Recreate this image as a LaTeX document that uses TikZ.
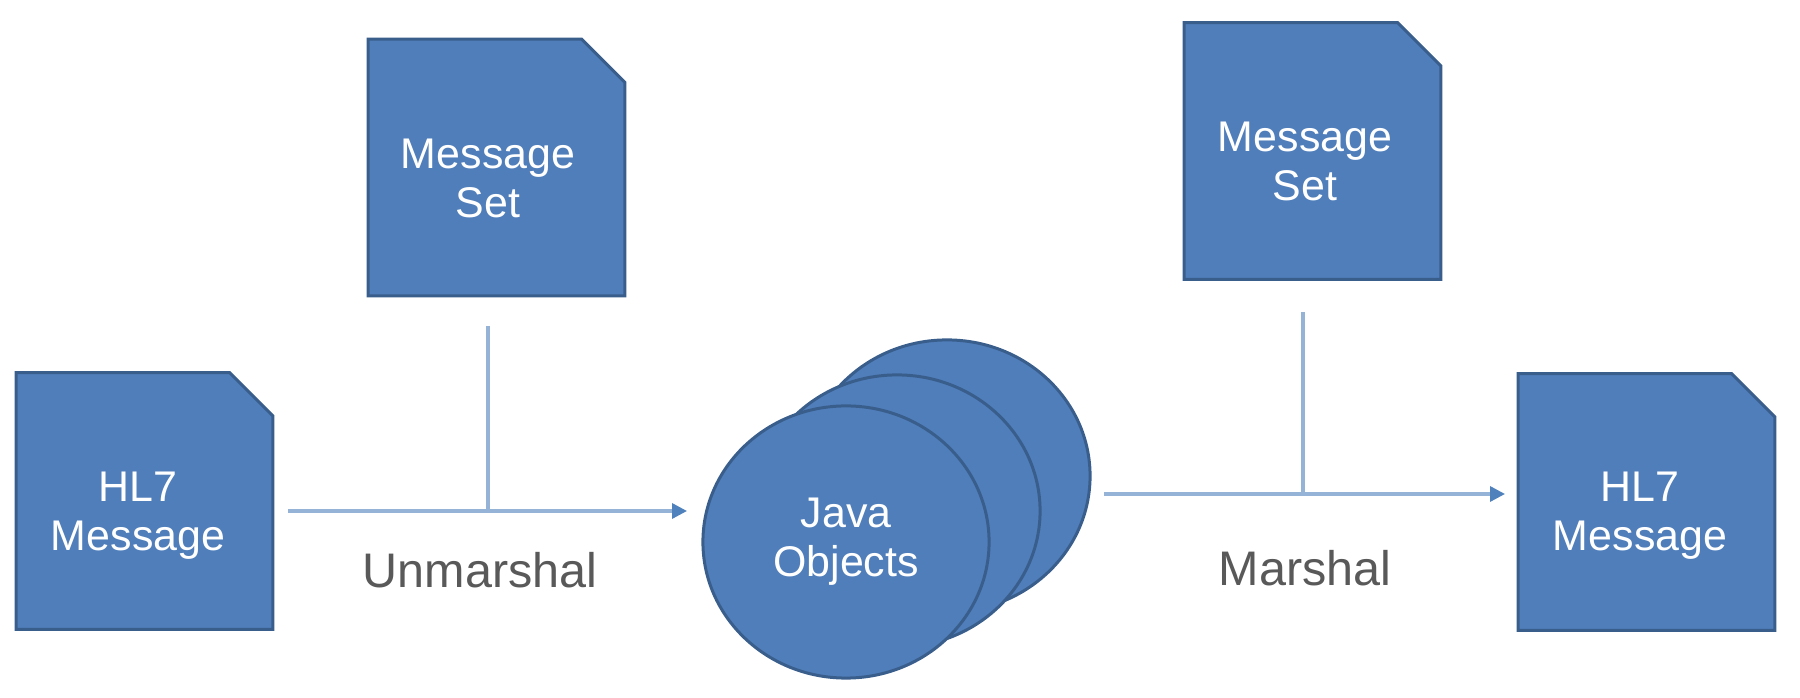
\documentclass[tikz,border=0pt]{standalone}
\usepackage{fontspec}
\setmainfont{Liberation Sans}
\usetikzlibrary{shapes.geometric,arrows.meta}
\definecolor{docblue}{HTML}{4F7EBA}
\definecolor{docedge}{HTML}{3A5E8C}
\definecolor{linkblue}{HTML}{95B3D7}
\definecolor{tipblue}{HTML}{4F81BD}
\definecolor{labelgray}{HTML}{595959}

\begin{document}
\begin{tikzpicture}[x=0.01cm,y=-0.01cm,
    doc/.style={inner sep=0pt, minimum width=2.55cm, minimum height=2.55cm},
    docframe/.style={fill=docblue, draw=docedge, line width=0.03cm},
    doctext/.style={text=white, align=center, inner sep=0pt,
        font=\fontsize{12.2}{13.9}\selectfont},
    obj/.style={ellipse, fill=docblue, draw=docedge, line width=0.03cm,
        inner sep=0pt, minimum width=2.86cm, minimum height=2.72cm},
    flow/.style={draw=linkblue, line width=0.033cm},
    flowarrow/.style={flow, -{Triangle[length=0.15cm, width=0.15cm, color=tipblue]}},
    stepname/.style={text=labelgray, inner sep=0pt,
        font=\fontsize{13.8}{16}\selectfont}]
    \useasboundingbox (0,0) rectangle (1800,698);

    % documents
    \node[doc] (hl7in)  at (144.5,501) {};
    \node[doc] (setin)  at (496.5,167.5) {};
    \node[doc] (setout) at (1312.5,151) {};
    \node[doc] (hl7out) at (1646.5,502) {};
    \foreach \d in {hl7in,setin,setout,hl7out}
        \filldraw[docframe] (\d.south west) |- ([xshift=-0.43cm]\d.north east)
            -- ([yshift=-0.43cm]\d.north east) -- (\d.south east) -- cycle;

    \node[doctext] (hl7in-txt)  at (138,516)    {HL7\\Message};
    \node[doctext] (setin-txt)  at (488,178.5)  {Message\\Set};
    \node[doctext] (setout-txt) at (1305,161.5) {Message\\Set};
    \node[doctext] (hl7out-txt) at (1640,516)   {HL7\\Message};

    % java objects, back to front
    \node[obj] (obj3) at (947,476) {};
    \node[obj] (obj2) at (897,511) {};
    \node[obj, doctext] (obj1) at (846,542) {Java\\Objects};

    % unmarshal
    \coordinate (in-a)   at (288,511);
    \coordinate (in-b)   at (687,511);
    \coordinate (in-j)   at (488,511);
    \coordinate (in-top) at (488,326);
    \draw[flowarrow] (in-a) -- (in-b);
    \draw[flow] (in-top) -- (in-j);
    \node[stepname] (unmarshal) at (480,570) {Unmarshal};

    % marshal
    \coordinate (out-a)   at (1104,494);
    \coordinate (out-b)   at (1505,494);
    \coordinate (out-j)   at (1303,494);
    \coordinate (out-top) at (1303,312);
    \draw[flowarrow] (out-a) -- (out-b);
    \draw[flow] (out-top) -- (out-j);
    \node[stepname] (marshal) at (1305,568) {Marshal};
\end{tikzpicture}
\end{document}
